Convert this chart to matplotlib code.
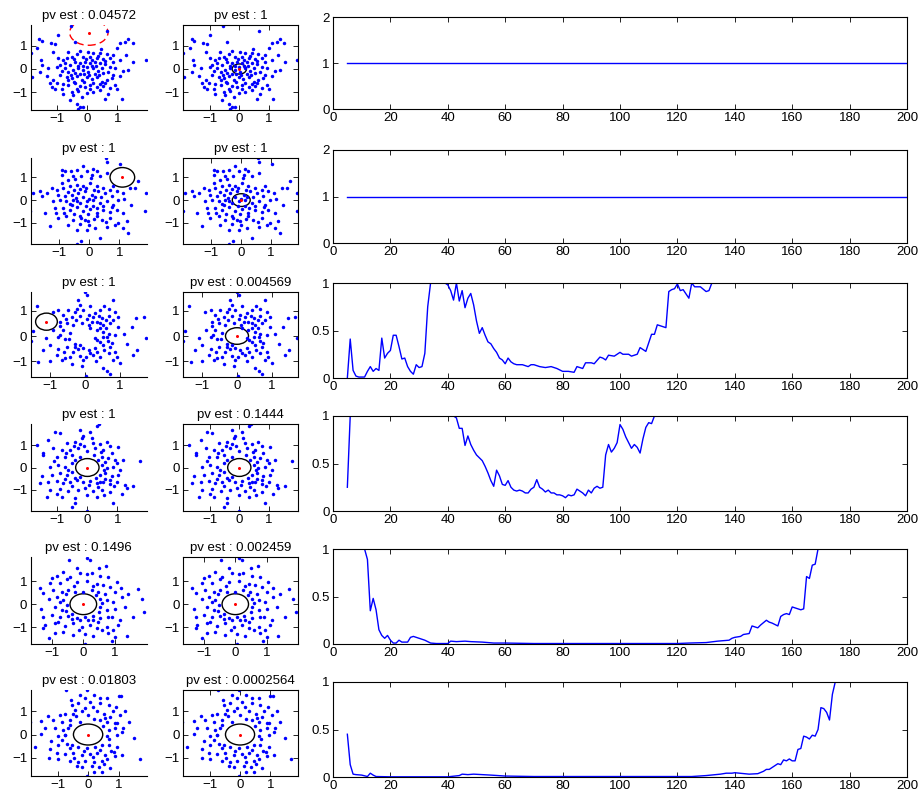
import numpy as np
import matplotlib
matplotlib.use("Agg")
import matplotlib.pyplot as plt
from matplotlib.patches import Ellipse
from matplotlib.ticker import FuncFormatter

plt.rcParams['font.family'] = ['Liberation Sans', 'DejaVu Sans']
plt.rcParams['font.size'] = 9.5

# titles of the scatter panels, one row per line: (left, right)
titles = [
    ("pv est : 0.04572", "pv est : 1"),
    ("pv est : 1", "pv est : 1"),
    ("pv est : 1", "pv est : 0.004569"),
    ("pv est : 1", "pv est : 0.1444"),
    ("pv est : 0.1496", "pv est : 0.002459"),
    ("pv est : 0.01803", "pv est : 0.0002564"),
]

# axis ranges of the scatter panels (tight to the data)
sc_xlims = [(-1.89, 1.98), (-1.95, 1.91), (-1.55, 1.76),
            (-1.89, 1.98), (-1.66, 2.0), (-1.88, 1.92)]
sc_ylims = [(-1.78, 1.91), (-1.93, 1.85), (-1.63, 1.75),
            (-1.95, 1.95), (-1.72, 2.04), (-1.78, 1.91)]

# point clouds, one per row (both panels of a row show the same points)
cloud1 = [(-0.54,1.87),(0.67,1.65),(-0.97,1.48),(-1.6,1.29),(-1.52,1.23),(-1.22,1.12),(-1.08,1.07),
          (-0.41,1.19),(1.37,1.30),(1.26,1.19),(1.51,1.12),(1.09,1.12),(0.98,0.90),(-1.67,0.93),
          (-1.89,0.68),(-1.13,0.75),(-0.24,0.80),(0.03,0.75),(0.2,0.71),(0.42,0.68),(0.64,0.65),
          (-0.36,0.65),(-0.52,0.54),(-0.69,0.46),(-0.82,0.39),(-0.13,0.54),(0.09,0.51),(0.31,0.46),
          (0.53,0.42),(0.76,0.46),(0.87,0.32),(1.09,0.39),(1.53,0.32),(1.94,0.39),(-1.54,0.39),
          (-1.52,0.17),(-1.3,0.03),(-1.58,-0.12),(-1.86,-0.36),(-0.74,0.25),(-0.58,0.17),(-0.41,0.32),
          (-0.24,0.25),(-0.08,0.32),(0.09,0.25),(0.26,0.32),(0.42,0.25),(0.59,0.22),(0.76,0.10),
          (0.92,0.03),(1.2,-0.07),(1.37,-0.04),(-0.74,0.03),(-0.63,-0.12),(-0.47,-0.04),(-0.3,0.03),
          (-0.13,-0.04),(0.03,-0.12),(0.2,0.03),(0.37,-0.07),(0.53,-0.19),(0.7,-0.12),(-0.91,-0.26),
          (-0.69,-0.33),(-0.52,-0.41),(-0.36,-0.30),(-0.19,-0.48),(-0.02,-0.36),(0.14,-0.45),
          (0.31,-0.33),(0.48,-0.55),(0.64,-0.48),(0.81,-0.41),(-1.13,-0.48),(-1.02,-0.62),(-0.8,-0.65),
          (-0.63,-0.70),(-0.41,-0.62),(-0.24,-0.74),(-0.08,-0.80),(0.09,-0.70),(0.31,-0.80),
          (0.53,-0.74),(0.76,-0.84),(0.92,-0.70),(-1.19,-0.80),(-1.08,-0.88),(-0.86,-0.88),
          (-0.52,-0.99),(-0.3,-0.94),(-0.02,-1.06),(0.2,-0.99),(0.42,-0.91),(0.7,-1.10),(-0.47,-1.13),
          (-0.19,-1.20),(-0.58,-1.35),(-0.36,-1.52),(-0.24,-1.67),(-0.3,-1.75),(-0.16,-1.67),
          (1.14,-1.32),(0.98,-0.88),(-0.63,-0.48),(-1.24,-0.62),(-0.97,0.46),(-0.91,0.17),
          (-0.45,0.42),(-0.05,0.45),(0.15,0.38),(0.35,0.55),(0.6,0.35),(-0.3,0.15),(-0.15,0.12),
          (0.0,0.1),(0.15,0.15),(0.3,0.12),(0.5,0.05),(-0.55,-0.25),(-0.4,-0.18),(-0.25,-0.2),
          (-0.1,-0.22),(0.05,-0.25),(0.25,-0.2),(0.4,-0.28),(-0.45,-0.55),(-0.1,-0.58),(0.2,-0.6),
          (0.42,-0.65),(-0.35,-0.85),(0.1,-0.88),(0.6,-0.6),(-0.85,-0.1),(-1.0,0.1),(0.85,0.6),
          (0.45,0.85),(-0.65,0.75),(1.1,-0.3),(1.3,0.6),(-1.35,-0.3),(0.85,-0.25),(0.6,-1.3),
          (-0.8,-1.1)]

cloud2 = [(0.56,1.85),(0.6,1.66),(-0.2,1.51),(0.13,1.37),(-0.92,1.31),(-0.81,1.26),(-0.61,1.26),
          (-0.4,1.31),(-0.07,1.26),(0.24,1.26),(1.02,1.60),(0.6,1.19),(0.36,1.04),(0.08,1.12),
          (-0.26,1.07),(-0.48,0.93),(-0.7,0.87),(-0.92,0.75),(1.63,0.82),(1.52,0.53),(1.35,0.55),
          (0.8,0.6),(-1.87,0.31),(-1.64,0.38),(-1.42,0.31),(-1.09,0.46),(-0.87,0.53),(-0.64,0.60),
          (-0.42,0.68),(-0.2,0.60),(0.02,0.75),(0.24,0.60),(0.47,0.53),(0.69,0.46),(0.91,0.38),
          (1.11,0.31),(1.88,0.31),(-1.59,0.16),(-1.03,0.24),(-0.81,0.16),(-0.59,0.24),(-0.37,0.31),
          (-0.14,0.38),(0.08,0.24),(0.3,0.38),(0.52,0.31),(0.74,0.16),(0.97,0.01),(1.16,0.04),
          (-0.98,0.01),(-0.76,-0.06),(-0.53,0.01),(-0.31,-0.13),(-0.09,-0.06),(0.13,-0.01),
          (0.36,-0.13),(0.58,-0.06),(0.8,-0.21),(-1.96,-0.5),(-1.48,-0.57),(-1.14,-0.35),(-0.87,-0.35),
          (-0.64,-0.43),(-0.42,-0.31),(-0.2,-0.5),(0.02,-0.4),(0.24,-0.57),(0.47,-0.43),(0.69,-0.54),
          (0.91,-0.43),(1.13,-0.57),(1.86,-0.5),(-1.03,-0.79),(-0.76,-0.72),(-0.53,-0.87),
          (-0.26,-0.79),(-0.03,-0.94),(0.24,-0.69),(0.41,-0.87),(0.69,-0.79),(0.97,-0.99),
          (1.24,-0.94),(-1.31,-1.16),(-0.7,-1.09),(-0.42,-1.31),(-0.09,-1.31),(0.19,-1.24),
          (0.58,-1.19),(1.13,-1.24),(1.3,-1.43),(0.36,-1.68),(-0.26,-1.82),(-0.42,-1.93),
          (-0.14,-0.87),(-0.59,-0.21),(-0.31,-0.69),(-1.2,-0.06),(0.13,-0.28),
          (-0.5,0.45),(-0.3,0.5),(-0.1,0.55),(0.15,0.45),(0.4,0.15),(-0.7,0.35),(-0.45,0.1),
          (-0.2,0.15),(0.0,0.05),(0.2,0.12),(-0.65,-0.15),(-0.4,-0.05),(-0.1,-0.25),(0.25,-0.35),
          (0.45,-0.25),(-0.85,-0.55),(-0.5,-0.6),(-0.05,-0.62),(0.15,-0.85),(0.55,-0.95),(-0.3,-1.05),
          (0.0,-1.1),(0.75,-0.3),(-1.25,0.55),(-1.1,-0.55),(0.05,0.98),(-0.55,1.05),(0.85,-1.1),
          (1.4,-0.2),(-0.9,1.1)]

cloud3 = [(0.0,1.75),(0.07,1.64),(0.79,1.42),(-0.19,1.42),(-1.38,1.18),(-0.76,1.05),(-0.48,1.03),
          (-0.24,1.09),(-0.05,1.03),(0.14,1.18),(0.29,0.92),(0.43,1.03),(0.67,1.09),(0.86,0.96),
          (1.67,0.76),(1.46,0.70),(-0.92,0.95),(-0.62,0.83),(-0.38,0.74),(-0.14,0.79),(0.05,0.66),
          (0.24,0.76),(0.48,0.70),(0.67,0.79),(0.81,0.63),(-0.71,0.57),(-0.52,0.5),(-0.33,0.43),
          (-0.1,0.5),(0.12,0.43),(0.33,0.57),(0.52,0.43),(0.71,0.5),(0.95,0.37),(1.33,0.37),
          (-1.48,0.21),(-0.9,0.24),(-0.62,0.24),(-0.43,0.13),(0.33,0.24),(0.52,0.17),(0.67,0.08),
          (0.86,0.04),(1.1,0.08),(-1.55,-0.2),(-1.1,-0.09),(-0.76,-0.03),(-0.57,-0.13),(-0.29,-0.32),
          (-0.14,-0.36),(0.35,-0.16),(0.29,-0.09),(0.43,-0.22),(0.62,-0.05),(0.76,-0.29),(1.73,-0.07),
          (-1.0,-0.36),(-0.76,-0.53),(-0.52,-0.42),(-0.29,-0.45),(-0.19,-0.53),(-0.05,-0.49),
          (0.1,-0.55),(0.29,-0.49),(0.52,-0.36),(0.71,-0.45),(0.86,-0.62),(-0.81,-0.75),(-0.57,-0.88),
          (-0.43,-0.82),(-0.14,-0.79),(0.03,-0.82),(0.24,-0.75),(0.43,-0.84),(0.67,-0.68),(0.9,-0.82),
          (1.48,-0.55),(1.38,-0.75),(-1.33,-1.05),(-1.0,-1.01),(-0.67,-0.95),(-0.38,-1.11),
          (-0.1,-1.21),(0.52,-1.28),(0.62,-1.41),(0.71,-1.5),(0.03,-1.58),(1.0,-1.08),(0.43,0.3),
          (-0.3,0.95),(0.1,0.85),(0.4,0.8),(0.6,0.62),(-0.55,0.68),(-0.25,0.62),(0.2,0.55),
          (0.42,0.5),(0.15,0.33),(0.6,0.3),(-0.7,0.05),(-0.45,-0.1),(0.5,-0.05),(0.55,-0.55),
          (-0.35,-0.62),(0.15,-0.68),(0.35,-0.62),(-0.6,-0.65),(-0.05,-0.95),(0.3,-1.0),(0.8,-0.95),
          (-0.72,0.38),(1.2,-0.3),(0.95,0.75),(-0.15,1.25),(0.55,1.2),(-1.2,-0.55),(0.65,-0.2)]

cloud4 = [(0.4,1.94),(0.31,1.84),(-0.24,1.69),(-1.08,1.57),(-0.91,1.54),(0.09,1.58),(-0.13,1.43),
          (-0.19,1.34),(0.14,1.34),(-1.69,1.01),(-1.3,1.24),(-0.69,1.09),(-0.41,1.16),(0.42,1.04),
          (0.64,1.16),(1.03,0.94),(-1.47,0.64),(-1.13,0.87),(-0.86,0.79),(-0.58,0.79),(-0.3,0.87),
          (0.0,0.75),(0.26,0.87),(0.53,0.79),(0.81,0.64),(-1.47,0.57),(-1.02,0.49),(-0.74,0.45),
          (-0.52,0.54),(-0.24,0.49),(0.22,0.54),(0.48,0.49),(0.7,0.42),(0.92,0.34),(1.76,0.27),
          (-1.24,0.04),(-0.97,0.12),(-0.74,0.04),(-0.52,0.19),(0.48,0.12),(0.64,-0.03),(0.87,0.04),
          (1.09,-0.1),(-1.52,-0.4),(-1.19,-0.33),(-0.91,-0.25),(-0.69,-0.33),(-0.52,-0.21),
          (0.42,-0.33),(0.59,-0.25),(0.81,-0.4),(1.03,-0.33),(-1.58,-0.7),(-1.3,-0.66),(-1.02,-0.6),
          (-0.8,-0.7),(-0.58,-0.66),(-0.36,-0.55),(-0.13,-0.63),(0.09,-0.6),(0.31,-0.7),(0.53,-0.63),
          (0.76,-0.75),(0.98,-0.66),(1.26,-0.78),(1.53,-0.81),(-1.24,-1.0),(-0.91,-0.96),(-0.63,-1.07),
          (-0.3,-1.0),(-0.08,-0.93),(0.2,-1.07),(0.48,-1.0),(0.76,-1.1),(1.14,-1.19),(-1.36,-1.34),
          (-0.86,-1.3),(-0.41,-1.37),(0.0,-1.25),(0.31,-1.34),(0.87,-1.6),(-0.41,-1.6),(-0.52,-1.79),
          (0.0,-1.94),(1.31,-0.93),(0.42,-0.66),(-0.24,-0.42),
          (-0.45,0.95),(-0.1,0.95),(0.2,1.1),(0.45,0.7),(-0.7,0.65),(-0.4,0.35),(0.35,0.32),
          (0.6,0.25),(-0.65,-0.1),(0.55,-0.1),(-0.4,-0.45),(0.3,-0.45),(0.6,-0.5),(-0.5,-0.85),
          (0.05,-0.78),(0.35,-0.88),(-0.75,-0.5),(0.75,-0.55),(0.9,-0.85),(-1.1,0.3),(1.2,0.35),
          (-0.25,1.05),(0.75,0.95),(-1.0,-1.2),(0.55,-1.25),(1.0,0.2)]

cloud5 = [(0.13,2.0),(0.21,1.89),(-0.45,1.91),(0.72,1.67),(-0.63,1.39),(-0.11,1.34),(0.11,1.31),
          (0.26,1.34),(-0.84,1.24),(-0.42,1.17),(0.53,1.24),(0.79,1.17),(1.05,0.96),(-1.05,0.91),
          (-1.37,0.71),(-0.74,0.91),(-0.21,0.96),(0.13,1.0),(0.42,0.89),(0.63,0.81),(0.84,0.74),
          (1.42,0.46),(1.71,0.67),(-1.26,0.49),(-0.95,0.6),(-0.68,0.53),(-0.47,0.6),(-0.26,0.53),
          (0.0,0.53),(0.26,0.6),(0.47,0.53),(0.68,0.46),(1.0,0.53),(1.21,0.31),(-1.07,0.24),
          (-0.84,0.31),(-0.63,0.17),(0.53,0.24),(0.74,0.17),(0.95,0.1),(1.84,0.24),(1.92,-0.33),
          (-1.32,-0.19),(-0.89,-0.11),(-0.68,-0.23),(0.53,-0.11),(0.74,-0.26),(1.0,-0.19),(1.32,-0.11),
          (-1.26,-0.54),(-1.0,-0.47),(-0.74,-0.57),(-0.47,-0.51),(-0.21,-0.61),(0.05,-0.57),
          (0.29,-0.51),(0.53,-0.61),(0.79,-0.57),(1.16,-0.69),(1.58,-0.57),(-1.21,-0.9),(-0.89,-0.83),
          (-0.58,-0.94),(-0.32,-0.83),(-0.05,-0.97),(0.21,-0.9),(0.42,-1.04),(0.74,-0.97),(1.11,-0.9),
          (-1.26,-1.04),(-0.63,-1.19),(-0.32,-1.33),(0.05,-1.29),(0.32,-1.37),(0.79,-1.26),(1.0,-1.4),
          (1.37,-1.37),(-1.07,-1.47),(0.89,-1.61),(0.05,-1.71),(-0.11,-0.69),(0.32,-0.69),
          (-0.37,-0.43),(-0.53,-0.04),
          (-0.5,1.1),(-0.3,0.8),(0.3,0.78),(-0.55,0.42),(0.4,0.4),(-0.75,0.1),(0.6,0.05),
          (-0.55,-0.3),(0.5,-0.35),(-0.35,-0.62),(0.15,-0.7),(0.45,-0.75),(-0.8,-0.75),(-0.15,-1.1),
          (0.6,-1.1),(0.9,-0.55),(1.2,0.7),(-1.0,1.15),(-0.2,1.55),(0.5,1.55),(0.95,-1.1),(-0.9,-1.25)]

cloud6 = [(-0.74,1.9),(-0.02,1.9),(-0.26,1.71),(0.2,1.71),(0.62,1.57),(1.0,1.64),(1.08,1.64),
          (0.4,1.57),(-0.1,1.57),(-0.54,1.28),(-0.32,1.35),(0.07,1.39),(0.4,1.35),(0.67,1.28),
          (0.92,1.2),(-0.92,0.84),(-0.76,0.87),(-0.43,1.06),(-0.21,0.99),(0.01,0.84),(0.29,0.99),
          (0.51,0.87),(0.73,0.77),(1.05,0.84),(1.22,0.99),(-1.91,0.55),(-1.53,0.58),(-1.14,0.62),
          (-0.87,0.55),(-0.59,0.62),(-0.27,0.55),(0.4,0.62),(0.62,0.52),(0.89,0.48),(1.33,0.52),
          (-1.42,0.26),(-1.09,0.29),(-0.81,0.19),(-0.65,0.26),(0.67,0.19),(0.89,0.26),(1.11,0.12),
          (-1.53,0.04),(-0.98,-0.06),(-0.76,-0.03),(0.62,-0.06),(0.95,-0.03),(1.49,-0.14),
          (-1.75,-0.54),(-1.25,-0.61),(-0.98,-0.43),(-0.7,-0.39),(-0.54,-0.46),(-0.32,-0.54),
          (-0.04,-0.58),(0.23,-0.54),(0.45,-0.46),(0.67,-0.43),(0.95,-0.54),(-1.03,-0.78),(-0.76,-0.83),
          (-0.48,-0.78),(-0.21,-0.9),(0.07,-0.83),(0.29,-0.78),(0.56,-0.87),(0.84,-0.75),(-1.27,-1.01),
          (-0.98,-1.07),(-0.59,-1.12),(-0.32,-1.19),(-0.1,-1.12),(0.18,-1.16),(0.45,-1.12),
          (0.62,-1.04),(0.89,-0.93),(1.69,-1.04),(-0.37,-1.36),(0.12,-1.33),(0.51,-1.26),(0.73,-1.45),
          (0.2,-1.59),(0.45,-1.59),(-0.02,-1.77),(-0.21,-1.41),(1.11,-0.9),(-1.2,-0.29),
          (-0.5,0.9),(-0.1,1.15),(0.15,1.2),(-0.4,0.8),(0.2,0.65),(0.55,0.7),(-0.6,0.42),
          (0.5,0.38),(-0.75,0.0),(0.7,-0.2),(-0.6,-0.6),(0.4,-0.65),(-0.15,-0.72),(0.15,-0.95),
          (-0.45,-1.0),(0.75,-0.7),(-0.85,-0.25),(0.95,0.5),(-1.3,0.8),(0.35,-1.4),(1.15,0.3),
          (-0.55,1.5),(0.8,1.0)]

clouds = [cloud1, cloud2, cloud3, cloud4, cloud5, cloud6]

# ellipses (center x, center y, radius x, radius y) for left and right panels
ell_left = [(0.05, 1.58, 0.64, 0.55), (1.1, 1.0, 0.41, 0.43), (-1.1, 0.57, 0.31, 0.34),
            (0.0, 0.0, 0.39, 0.40), (0.0, 0.0, 0.42, 0.45), (0.0, 0.0, 0.48, 0.45)]
ell_right = [(0.0, 0.0, 0.24, 0.22), (0.0, 0.0, 0.30, 0.28), (0.0, 0.0, 0.33, 0.33),
             (0.0, 0.0, 0.39, 0.40), (0.0, 0.0, 0.42, 0.45), (0.0, 0.0, 0.48, 0.45)]

# p-value curves against window size, (x, p) pairs
curve1 = [(5, 1.0), (200, 1.0)]
curve2 = [(5, 1.0), (200, 1.0)]
curve3 = [(5,0.0),(6,0.41),(7,0.08),(8,0.02),(9,0.01),(11,0.01),(12,0.07),(13,0.12),(14,0.07),
          (15,0.10),(16,0.08),(17,0.42),(18,0.21),(19,0.26),(20,0.29),(21,0.45),(22,0.45),(23,0.33),
          (24,0.20),(25,0.21),(26,0.12),(27,0.07),(28,0.04),(29,0.14),(30,0.11),(31,0.12),(32,0.26),
          (33,0.75),(34,1.0),(39,1.0),(40,0.98),(41,0.92),(42,0.82),(43,1.0),(44,0.81),(45,0.92),
          (46,0.74),(47,0.84),(48,0.89),(49,0.77),(50,0.60),(51,0.47),(52,0.53),(53,0.45),(54,0.38),
          (55,0.36),(56,0.31),(57,0.27),(58,0.21),(59,0.19),(60,0.15),(61,0.21),(62,0.17),(63,0.15),
          (64,0.14),(66,0.14),(68,0.12),(69,0.14),(70,0.14),(72,0.12),(74,0.11),(76,0.12),(78,0.10),
          (80,0.07),(82,0.07),(84,0.06),(85,0.12),(86,0.11),(87,0.10),(88,0.16),(90,0.16),(91,0.15),
          (93,0.22),(94,0.21),(95,0.19),(96,0.24),(98,0.23),(100,0.27),(101,0.25),(103,0.25),
          (104,0.23),(106,0.25),(107,0.32),(108,0.30),(109,0.28),(111,0.46),(112,0.46),(113,0.56),
          (115,0.54),(116,0.53),(117,0.91),(118,0.93),(119,0.94),(120,0.99),(121,0.92),(122,0.93),
          (124,0.84),(125,1.0),(126,0.96),(128,0.96),(130,0.91),(131,0.92),(132,1.0),(200,1.0)]
curve4 = [(5,0.25),(6,1.0),(42,1.0),(43,0.98),(44,0.87),(45,0.87),(46,0.69),(47,0.79),(48,0.70),
          (49,0.64),(50,0.59),(51,0.56),(52,0.53),(53,0.47),(54,0.40),(55,0.32),(56,0.26),(57,0.43),
          (58,0.37),(59,0.28),(60,0.27),(61,0.32),(62,0.25),(63,0.22),(64,0.21),(65,0.22),(66,0.21),
          (67,0.19),(68,0.19),(69,0.23),(70,0.25),(71,0.33),(72,0.25),(73,0.23),(74,0.20),(75,0.22),
          (76,0.19),(77,0.19),(78,0.17),(79,0.17),(80,0.16),(81,0.14),(82,0.17),(83,0.16),(84,0.17),
          (85,0.23),(86,0.21),(87,0.19),(88,0.16),(89,0.22),(90,0.19),(91,0.24),(92,0.26),(93,0.24),
          (94,0.25),(95,0.59),(96,0.70),(97,0.62),(98,0.66),(99,0.72),(100,0.91),(101,0.86),
          (102,0.78),(103,0.72),(104,0.66),(105,0.70),(106,0.67),(107,0.61),(108,0.76),(109,0.88),
          (110,0.93),(111,0.92),(112,1.0),(200,1.0)]
curve5 = [(5,1.0),(11,1.0),(12,0.89),(13,0.35),(14,0.48),(15,0.36),(16,0.15),(17,0.09),(18,0.06),
          (19,0.09),(20,0.04),(21,0.01),(22,0.01),(23,0.04),(24,0.02),(25,0.02),(26,0.02),(27,0.07),
          (28,0.08),(29,0.07),(30,0.06),(32,0.04),(34,0.01),(36,0.005),(40,0.005),(41,0.03),
          (43,0.025),(46,0.03),(48,0.025),(52,0.02),(56,0.01),(60,0.01),(70,0.005),(120,0.005),
          (124,0.01),(130,0.015),(134,0.03),(138,0.04),(139,0.06),(140,0.07),(142,0.08),(143,0.10),
          (145,0.11),(146,0.19),(147,0.18),(148,0.17),(149,0.20),(151,0.25),(152,0.23),(153,0.22),
          (155,0.19),(156,0.29),(157,0.31),(158,0.32),(159,0.31),(160,0.39),(161,0.38),(162,0.37),
          (163,0.36),(164,0.37),(165,0.71),(166,0.69),(167,0.83),(168,0.84),(169,1.0),(200,1.0)]
curve6 = [(5,0.45),(6,0.13),(7,0.03),(8,0.025),(10,0.02),(12,0.005),(13,0.04),(14,0.02),(15,0.005),
          (20,0.002),(40,0.002),(44,0.015),(45,0.03),(47,0.025),(49,0.03),(52,0.025),(55,0.02),
          (60,0.01),(70,0.005),(125,0.005),(130,0.015),(135,0.03),(137,0.04),(139,0.04),(140,0.045),
          (145,0.03),(148,0.035),(150,0.06),(151,0.08),(152,0.08),(153,0.10),(154,0.12),(155,0.14),
          (156,0.13),(157,0.18),(158,0.17),(159,0.19),(160,0.17),(161,0.17),(162,0.29),(163,0.30),
          (164,0.43),(165,0.42),(166,0.40),(167,0.44),(168,0.43),(169,0.50),(170,0.73),(171,0.72),
          (172,0.68),(173,0.60),(174,0.87),(175,1.0),(200,1.0)]
curves = [curve1, curve2, curve3, curve4, curve5, curve6]

# ---- layout (pixels of a 921x801 canvas) ----
W, H = 921, 801
sc_cols = [(30.7, 116.0), (183.0, 115.3)]
sc_rows = [(25, 110), (158, 244), (292, 377), (424, 511), (557, 644), (690, 776)]
ln_x = (333, 907)
ln_rows = [(17, 109), (150, 243), (283, 378), (416, 511), (549, 644), (682, 777)]


def rect(x0, w, y0, y1):
    return [x0 / W, 1 - y1 / H, w / W, (y1 - y0) / H]


def matlab_ticks(ax, box=True):
    ax.tick_params(direction='in', length=3.5, width=0.6, pad=2.5,
                   top=box, right=box, labelsize=9.5)
    for side in ['top', 'right']:
        ax.spines[side].set_visible(box)
    for sp in ax.spines.values():
        sp.set_linewidth(0.8)


def fmt(v, pos):
    return '%g' % v


fig = plt.figure(figsize=(W / 100, H / 100), dpi=100)

for r in range(6):
    pts = np.array(clouds[r])
    for c in range(2):
        x0, w = sc_cols[c]
        y0, y1 = sc_rows[r]
        ax = fig.add_axes(rect(x0, w, y0, y1))
        ax.plot(pts[:, 0], pts[:, 1], 'o', color='#0000ff', ms=2.5, mew=0)
        cx, cy, rx, ry = ell_left[r] if c == 0 else ell_right[r]
        if r == 0 and c == 0:
            e = Ellipse((cx, cy), 2 * rx, 2 * ry, fill=False, ec='red', lw=1.0, ls=(0, (5, 3)))
        else:
            e = Ellipse((cx, cy), 2 * rx, 2 * ry, fill=False, ec='black', lw=1.0)
        ax.add_patch(e)
        ax.plot([cx], [cy], 'o', color='red', ms=2.2, mew=0)
        ax.set_xlim(*sc_xlims[r])
        ax.set_ylim(*sc_ylims[r])
        ax.set_xticks([-1, 0, 1])
        ax.set_yticks([-1, 0, 1])
        ax.set_title(titles[r][c], fontsize=9.5, pad=4)
        matlab_ticks(ax, box=(c == 1))

    y0, y1 = ln_rows[r]
    ax = fig.add_axes(rect(ln_x[0], ln_x[1] - ln_x[0], y0, y1))
    cv = np.array(curves[r])
    ax.plot(cv[:, 0], cv[:, 1], color='#0000ff', lw=1.0)
    ax.set_xlim(0, 200)
    ax.set_xticks(np.arange(0, 201, 20))
    if r < 2:
        ax.set_ylim(0, 2)
        ax.set_yticks([0, 1, 2])
    else:
        ax.set_ylim(0, 1)
        ax.set_yticks([0, 0.5, 1])
    ax.yaxis.set_major_formatter(FuncFormatter(fmt))
    matlab_ticks(ax, box=True)

fig.savefig('out.png', dpi=100)
